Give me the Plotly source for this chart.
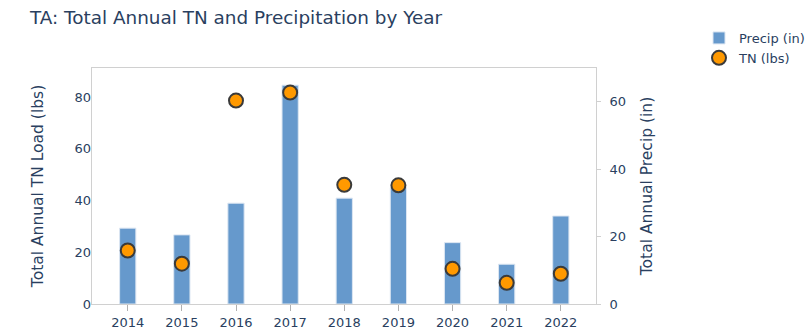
import plotly.graph_objects as go

years = [2014, 2015, 2016, 2017, 2018, 2019, 2020, 2021, 2022]
precip_in = [22.5, 20.5, 29.9, 64.9, 31.4, 34.5, 18.2, 11.8, 26.1]
tn_lbs = [20.7, 15.6, 78.7, 81.8, 46.1, 45.9, 13.6, 8.2, 11.7]

FONT = "DejaVu Sans"
TXT = "#2a3f5f"
LINE = "#d0d0d0"

fig = go.Figure()
fig.add_trace(go.Bar(
    x=years, y=precip_in, name="Precip (in)", yaxis="y",
    width=0.3,
    marker=dict(color="#6699cc", line=dict(color="#dce6f2", width=1)),
))
fig.add_trace(go.Scatter(
    x=years, y=tn_lbs, name="TN (lbs)", mode="markers", yaxis="y2",
    marker=dict(color="#ff9900", size=14, line=dict(color="#3a3a3a", width=2)),
))

fig.update_layout(
    width=807, height=329,
    paper_bgcolor="white", plot_bgcolor="white",
    font=dict(family=FONT, size=13, color=TXT),
    margin=dict(l=92, r=211, t=68, b=25, autoexpand=False),
    title=dict(text="TA: Total Annual TN and Precipitation by Year",
               x=30/807, xanchor="left", y=1-18/329, yanchor="middle",
               font=dict(family=FONT, size=18.4, color=TXT)),
    xaxis=dict(range=[2013.34, 2022.65], tickmode="array", tickvals=years,
               ticktext=[str(y) for y in years], automargin=False,
               showline=True, mirror=True, linecolor=LINE, linewidth=1,
               ticks="outside", ticklen=6, tickcolor="#b0b0b0",
               showgrid=False, zeroline=False),
    # precipitation axis (right side, base axis)
    yaxis=dict(range=[0, 70.0], tickvals=[0, 20, 40, 60], side="right",
               title=dict(text="Total Annual Precip (in)", font=dict(size=15.5), standoff=16),
               automargin=False,
               showline=True, mirror=True, linecolor=LINE, linewidth=1,
               ticks="outside", ticklen=4, tickcolor=LINE, ticklabelstandoff=6,
               showgrid=False, zeroline=False),
    # TN axis (left side, overlaid so markers sit above bars)
    yaxis2=dict(range=[0, 91.3], tickvals=[0, 20, 40, 60, 80], side="left",
                overlaying="y", anchor="x",
                title=dict(text="Total Annual TN Load (lbs)", font=dict(size=15.5), standoff=27),
                automargin=False,
                showline=False, showgrid=False, zeroline=False),
    legend=dict(xref="container", yref="container", x=699/807, xanchor="left",
                y=1-23/329, yanchor="top", tracegroupgap=0,
                font=dict(size=13), bgcolor="rgba(0,0,0,0)"),
    showlegend=True,
)

fig.write_html("out.html", config={"displayModeBar": False},
               post_script="document.body.style.margin='0px';")
